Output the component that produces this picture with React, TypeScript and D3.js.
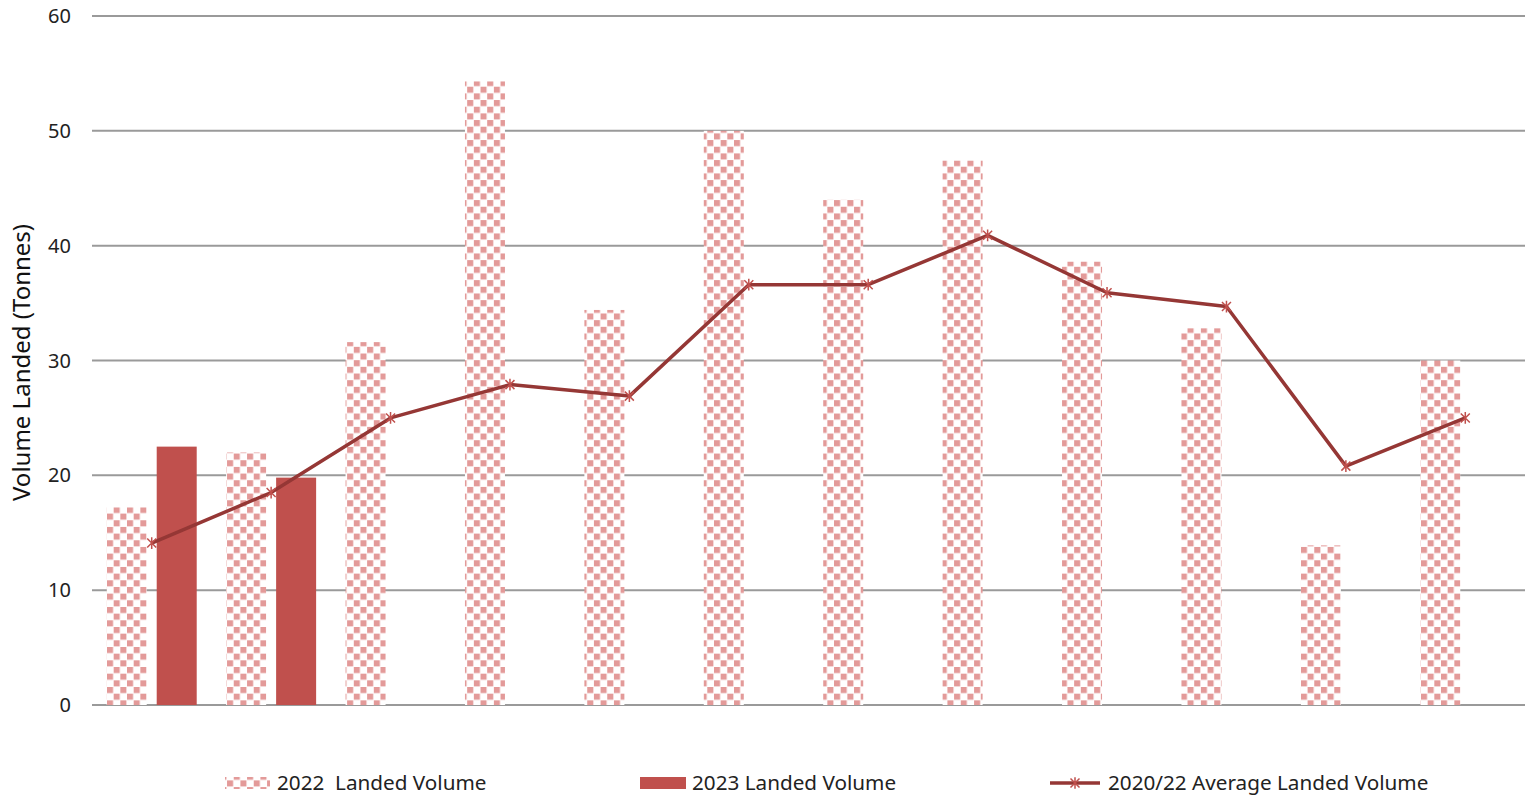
import React, { useEffect, useRef } from "react";
import * as d3 from "d3";

const months = ["Jan", "Feb", "Mar", "Apr", "May", "Jun", "Jul", "Aug", "Sep", "Oct", "Nov", "Dec"];
const landed2022 = [17.2, 22.0, 31.6, 54.3, 34.4, 50.0, 44.0, 47.4, 38.6, 32.8, 13.9, 30.0];
const landed2023 = [22.5, 19.8];
const average2022 = [14.1, 18.5, 25.0, 27.9, 26.9, 36.6, 36.6, 40.9, 35.9, 34.7, 20.8, 25.0];
const yTicks = [0, 10, 20, 30, 40, 50, 60];

const FONT = "'Noto Sans', 'Open Sans', sans-serif";
const PINK = "#e39a99";
const SOLID = "#c0504d";
const LINE = "#953735";

const starPath = (r: number) =>
  `M${-r},${-r}L${r},${r}M${-r},${r}L${r},${-r}M0,${-r * 1.3}L0,${r * 1.3}`;

const App: React.FC = () => {
  const svgRef = useRef<SVGSVGElement>(null);

  useEffect(() => {
    document.body.style.margin = "0";
    if (!svgRef.current) return;
    d3.select(svgRef.current).selectAll("*").remove();

    const width = 1531;
    const height = 796;
    const margin = { top: 16, right: 6, bottom: 91, left: 92 };

    const svg = d3.select(svgRef.current).attr("width", width).attr("height", height);

    // checkerboard fill for the 2022 bars
    const cell = 6.67;
    const defs = svg.append("defs");
    const pat = defs
      .append("pattern")
      .attr("id", "checker")
      .attr("width", cell * 2)
      .attr("height", cell * 2)
      .attr("x", 107)
      .attr("y", 0)
      .attr("patternUnits", "userSpaceOnUse");
    pat.append("rect").attr("width", cell * 2).attr("height", cell * 2).attr("fill", "#fff");
    pat.append("rect").attr("x", cell).attr("width", cell - 0.6).attr("height", cell - 0.6).attr("fill", PINK);
    pat.append("rect").attr("y", cell).attr("width", cell - 0.6).attr("height", cell - 0.6).attr("fill", PINK);

    const x = d3
      .scaleBand()
      .domain(months)
      .range([margin.left, width - margin.right])
      .padding(0);

    const y = d3
      .scaleLinear()
      .domain([0, 60])
      .range([height - margin.bottom, margin.top]);

    // gridlines
    svg
      .append("g")
      .selectAll("line")
      .data(yTicks)
      .enter()
      .append("line")
      .attr("x1", margin.left)
      .attr("x2", width - margin.right)
      .attr("y1", (d) => y(d))
      .attr("y2", (d) => y(d))
      .attr("stroke", "#9a9a9a")
      .attr("stroke-width", 2);

    svg
      .append("g")
      .selectAll("text")
      .data(yTicks)
      .enter()
      .append("text")
      .attr("x", 71)
      .attr("y", (d) => y(d))
      .attr("dy", "0.35em")
      .attr("text-anchor", "end")
      .style("font-family", FONT)
      .style("font-size", "20px")
      .attr("fill", "#222")
      .text((d) => d);

    svg
      .append("text")
      .attr("transform", `translate(30,${(margin.top + height - margin.bottom) / 2 + 2}) rotate(-90)`)
      .attr("text-anchor", "middle")
      .style("font-family", FONT)
      .style("font-size", "24px")
      .attr("fill", "#111")
      .text("Volume Landed (Tonnes)");

    const cx = (m: string) => x(m)! + x.bandwidth() / 2;
    const barW = 40;
    const gap = 5;

    svg
      .append("g")
      .selectAll("rect")
      .data(landed2022)
      .enter()
      .append("rect")
      .attr("x", (d, i) => cx(months[i]) - gap - barW)
      .attr("y", (d) => y(d))
      .attr("width", barW)
      .attr("height", (d) => y(0) - y(d))
      .attr("fill", "url(#checker)");

    svg
      .append("g")
      .selectAll("rect")
      .data(landed2023)
      .enter()
      .append("rect")
      .attr("x", (d, i) => cx(months[i]) + gap)
      .attr("y", (d) => y(d))
      .attr("width", barW)
      .attr("height", (d) => y(0) - y(d))
      .attr("fill", SOLID);

    const line = d3
      .line<number>()
      .x((d, i) => cx(months[i]))
      .y((d) => y(d));

    svg
      .append("path")
      .datum(average2022)
      .attr("d", line)
      .attr("fill", "none")
      .attr("stroke", LINE)
      .attr("stroke-width", 3.5)
      .attr("stroke-linejoin", "round");

    svg
      .append("g")
      .selectAll("path")
      .data(average2022)
      .enter()
      .append("path")
      .attr("transform", (d, i) => `translate(${cx(months[i])},${y(d)})`)
      .attr("d", starPath(4.5))
      .attr("stroke", "#c0504d")
      .attr("stroke-width", 1.5)
      .attr("fill", "none");

    // legend
    const ly = 783;
    const lg = svg.append("g").style("font-family", FONT).style("font-size", "20.7px").attr("fill", "#222");
    lg.append("rect").attr("x", 225).attr("y", ly - 6).attr("width", 45).attr("height", 12).attr("fill", "url(#checker)");
    lg.append("text").attr("x", 277).attr("y", ly).attr("dy", "0.35em").attr("xml:space", "preserve").text("2022  Landed Volume");
    lg.append("rect").attr("x", 640).attr("y", ly - 6).attr("width", 46).attr("height", 12).attr("fill", SOLID);
    lg.append("text").attr("x", 692).attr("y", ly).attr("dy", "0.35em").text("2023 Landed Volume");
    lg.append("line").attr("x1", 1050).attr("x2", 1100).attr("y1", ly).attr("y2", ly).attr("stroke", LINE).attr("stroke-width", 3.5);
    lg.append("path").attr("transform", `translate(1075,${ly})`).attr("d", starPath(4.5)).attr("stroke", "#c0504d").attr("stroke-width", 1.5).attr("fill", "none");
    lg.append("text").attr("x", 1108).attr("y", ly).attr("dy", "0.35em").text("2020/22 Average Landed Volume");
  }, []);

  return <svg ref={svgRef} style={{ display: "block" }} />;
};

export default App;
